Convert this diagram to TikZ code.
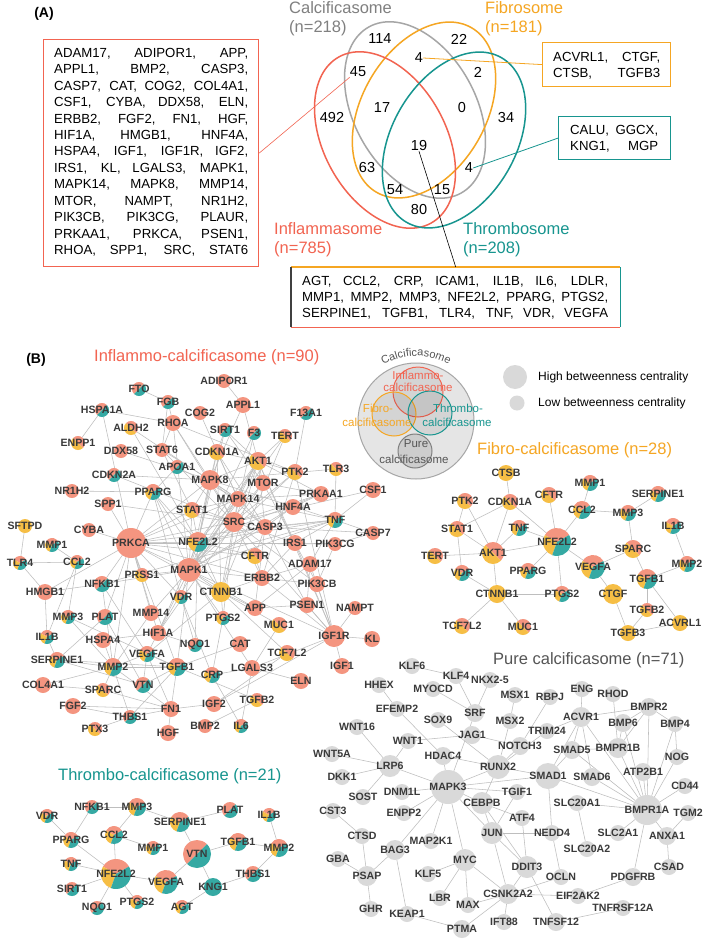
\documentclass[tikz,border=0pt]{standalone}
\usepackage{fontspec}
\setmainfont{Liberation Sans}
\usetikzlibrary{decorations.text}
\pgfdeclarelayer{bg}
\pgfsetlayers{bg,main}
\definecolor{cP}{HTML}{F49580}
\definecolor{cY}{HTML}{F6BE45}
\definecolor{cT}{HTML}{35A9A3}
\definecolor{cG}{HTML}{D9D9D9}
\definecolor{vR}{HTML}{F26451}
\definecolor{vO}{HTML}{F5A623}
\definecolor{vT}{HTML}{17958F}
\definecolor{vG}{HTML}{A6A6A6}
\definecolor{txtc}{HTML}{3A3A3A}
\definecolor{edgec}{HTML}{BEBEBE}
\definecolor{ttlg}{HTML}{555555}
\tikzset{
  gnode/.style={circle,inner sep=0pt,outer sep=0pt},
  glbl/.style={font=\fontsize{10.6}{12}\selectfont\bfseries,text=txtc,inner sep=0pt},
  net/.style={draw=edgec,line width=0.55pt},
  boxtxt/.style={font=\fontsize{13.2}{16}\selectfont,inner sep=0pt,anchor=base west},
  vlab/.style={font=\fontsize{16.5}{18}\selectfont,inner sep=0pt,anchor=west},
  vnum/.style={font=\fontsize{14.5}{16}\selectfont,inner sep=0pt},
  ttl/.style={font=\fontsize{16.5}{18}\selectfont,inner sep=0pt,anchor=west},
  panel/.style={font=\fontsize{14}{16}\selectfont\bfseries,inner sep=0pt},
  venn/.style={line width=1.5pt},
  lgd/.style={font=\fontsize{11.5}{12}\selectfont,inner sep=0pt},
  legtxt/.style={font=\fontsize{12}{14}\selectfont,inner sep=0pt,anchor=west},
  boxframe/.style={inner sep=0pt,line width=1.2pt,anchor=north west},
}
\newcommand{\psec}[5]{\fill[#5] (#1.center) -- ++(#3:#2pt) arc[start angle=#3,end angle=#4,radius=#2pt] -- cycle;}
\newcommand{\pieP}[2]{\fill[cP] (#1.center) circle[radius=#2pt];}
\newcommand{\pieY}[2]{\fill[cY] (#1.center) circle[radius=#2pt];}
\newcommand{\pieT}[2]{\fill[cT] (#1.center) circle[radius=#2pt];}
\newcommand{\pieG}[2]{\fill[cG] (#1.center) circle[radius=#2pt];}
\newcommand{\piePY}[2]{\psec{#1}{#2}{-45}{135}{cP}\psec{#1}{#2}{135}{315}{cY}}
\newcommand{\piePT}[2]{\psec{#1}{#2}{45}{225}{cP}\psec{#1}{#2}{225}{405}{cT}}
\newcommand{\piePYT}[2]{\psec{#1}{#2}{30}{150}{cP}\psec{#1}{#2}{150}{250}{cY}\psec{#1}{#2}{250}{390}{cT}}
\newcommand{\gn}[6]{%
  \node[gnode,minimum size=#4*2pt] (#1) at (#2,#3) {};
  \csname pie#5\endcsname{#1}{#4}%
  \node[glbl] (#1-l) at (#1.center) {#6};}
\begin{document}
\begin{tikzpicture}[x=1pt,y=-1pt]
\useasboundingbox (0,0) rectangle (709,944);
\begin{pgfonlayer}{bg}
\fill[white] (0,0) rectangle (709,944);
\end{pgfonlayer}

% ================= (A) =================
\node[panel] (labA) at (44,14) {(A)};
\draw[vG,venn,shift={(415,110)},rotate=29] (0,0) ellipse[x radius=61pt,y radius=95pt];
\draw[vO,venn,shift={(424,110)},rotate=-30] (0,0) ellipse[x radius=62pt,y radius=95pt];
\draw[vR,venn,shift={(385,140)},rotate=29] (0,0) ellipse[x radius=61pt,y radius=95pt];
\draw[vT,venn,shift={(454,140)},rotate=-30] (0,0) ellipse[x radius=62pt,y radius=95pt];

\node[vlab,text=gray] (lcal) at (289,8) {Calcificasome};
\node[vlab,text=gray] (lcaln) at (289,28) {(n=218)};
\node[vlab,text=vO] (lfib) at (485,8) {Fibrosome};
\node[vlab,text=vO] (lfibn) at (485,28) {(n=181)};
\node[vlab,text=vR] (linf) at (274,229) {Inflammasome};
\node[vlab,text=vR] (linfn) at (274,249) {(n=785)};
\node[vlab,text=vT] (lthr) at (463,229) {Thrombosome};
\node[vlab,text=vT] (lthrn) at (463,249) {(n=208)};

\node[vnum] (n114) at (380,39) {114};
\node[vnum] (n22) at (459,39) {22};
\node[vnum] (n4f) at (419,58) {4};
\node[vnum] (n45) at (358,72) {45};
\node[vnum] (n2) at (478,72) {2};
\node[vnum] (n492) at (332,118) {492};
\node[vnum] (n17) at (382,108) {17};
\node[vnum] (n0) at (462,108) {0};
\node[vnum] (n34) at (506,118) {34};
\node[vnum] (n19) at (419,146) {19};
\node[vnum] (n63) at (367,168) {63};
\node[vnum] (n4t) at (469,168) {4};
\node[vnum] (n54) at (395,190) {54};
\node[vnum] (n15) at (442,190) {15};
\node[vnum] (n80) at (419,210) {80};

% boxes
\node[boxframe,draw=vR,minimum width=215pt,minimum height=227pt] (redbox) at (43,39) {};
\foreach \t [count=\i from 0] in {{ADAM17, ADIPOR1, APP,},{APPL1, BMP2, CASP3,},{CASP7, CAT, COG2, COL4A1,},{CSF1, CYBA, DDX58, ELN,},{ERBB2, FGF2, FN1, HGF,},{HIF1A, HMGB1, HNF4A,},{HSPA4, IGF1, IGF1R, IGF2,},{IRS1, KL, LGALS3, MAPK1,},{MAPK14, MAPK8, MMP14,},{MTOR, NAMPT, NR1H2,},{PIK3CB, PIK3CG, PLAUR,},{PRKAA1, PRKCA, PSEN1,},{RHOA, SPP1, SRC, STAT6}}
  \node[boxtxt] (rl\i) at (54,{57.6+16.4*\i}) {\makebox[194pt][s]{\t}};

\node[boxframe,draw=vO,minimum width=128pt,minimum height=44pt] (obox) at (542,42) {};
\node[boxtxt] (ol1) at (553,61.6) {\makebox[107pt][s]{ACVRL1, CTGF,}};
\node[boxtxt] (ol2) at (553,77.6) {\makebox[107pt][s]{CTSB, TGFB3}};

\node[boxframe,draw=vT,minimum width=112pt,minimum height=43pt] (tbox) at (558,116) {};
\node[boxtxt] (tl1) at (570,134.6) {\makebox[88pt][s]{CALU, GGCX,}};
\node[boxtxt] (tl2) at (570,150.6) {\makebox[88pt][s]{KNG1, MGP}};

\node[inner sep=0pt,minimum width=329pt,minimum height=60pt,anchor=north west] (botbox) at (291,267) {};
\draw[vO,line width=1.2pt] (botbox.north west) -- (botbox.north east);
\draw[vT,line width=1.2pt] (botbox.north east) -- (botbox.south east);
\draw[vR,line width=1.2pt] (botbox.south east) -- (botbox.south west);
\draw[black!75,line width=1.2pt] (botbox.south west) -- (botbox.north west);
\node[boxtxt] (bl1) at (302,285.6) {\makebox[306pt][s]{AGT, CCL2, CRP, ICAM1, IL1B, IL6, LDLR,}};
\node[boxtxt] (bl2) at (302,301.6) {\makebox[306pt][s]{MMP1, MMP2, MMP3, NFE2L2, PPARG, PTGS2,}};
\node[boxtxt] (bl3) at (302,317.6) {\makebox[306pt][s]{SERPINE1, TGFB1, TLR4, TNF, VDR, VEGFA}};

\draw[vR,line width=0.6pt] (n45.south west) -- (redbox.east);
\draw[vO,line width=0.8pt] (n4f.east) -- (obox.west);
\draw[vT,line width=0.8pt] (n4t.east) -- (tbox.west);
\draw[black,line width=0.6pt] (n19.south) -- (botbox.north);

% ================= (B) titles & legend =================
\node[panel] (labB) at (36,360) {(B)};
\node[ttl,text=vR] (tinf) at (94,357) {Inflammo-calcificasome (n=90)};
\node[ttl,text=vO] (tfib) at (477,450) {Fibro-calcificasome (n=28)};
\node[ttl,text=ttlg] (tpur) at (493,660) {Pure calcificasome (n=71)};
\node[ttl,text=vT] (tthr) at (58,776) {Thrombo-calcificasome (n=21)};

\draw[vG,fill=black!10,line width=1pt] (416,421) circle[radius=58pt];
\draw[vR,fill=black,fill opacity=0.07,line width=1pt] (418,392) circle[radius=25pt];
\draw[vO,fill=black,fill opacity=0.07,line width=1pt] (394,414) circle[radius=22pt];
\draw[vT,fill=black,fill opacity=0.07,line width=1pt] (430,413) circle[radius=22pt];
\draw[gray,fill=black,fill opacity=0.1,line width=1pt] (415,451) circle[radius=17pt];
\path[decorate,decoration={text along path,text align=center,text={|\fontsize{11}{12}\selectfont\color{ttlg}|Calcificasome}}] ([shift={(416,421)}]145:65pt) arc[start angle=145,end angle=35,radius=65pt];
\node[lgd,text=vR] (lg1a) at (418,375) {Inflammo-};
\node[lgd,text=vR] (lg1b) at (418,387) {calcificasome};
\node[lgd,text=vO] (lg2a) at (378,408) {Fibro-};
\node[lgd,text=vO] (lg2b) at (377,422) {calcificasome};
\node[lgd,text=vT] (lg3a) at (458,408) {Thrombo-};
\node[lgd,text=vT] (lg3b) at (457,422) {calcificasome};
\node[lgd,text=ttlg] (lg4a) at (416,444) {Pure};
\node[lgd,text=ttlg] (lg4b) at (414,459) {calcificasome};

\node[circle,fill=cG,minimum size=24pt,inner sep=0pt] (hidot) at (515,377) {};
\node[circle,fill=cG,minimum size=15pt,inner sep=0pt] (lodot) at (517,403) {};
\node[legtxt] (hitxt) at (538,377) {High betweenness centrality};
\node[legtxt] (lotxt) at (538,403) {Low betweenness centrality};

% ================= Inflammo-calcificasome =================
\gn{iADIPOR1}{224}{381}{7}{P}{ADIPOR1}
\gn{iFTO}{139}{389}{7}{PT}{FTO}
\gn{iFGB}{168}{402}{7}{PT}{FGB}
\gn{iAPPL1}{243}{405}{8}{P}{APPL1}
\gn{iHSPA1A}{102}{410}{7}{PT}{HSPA1A}
\gn{iCOG2}{200}{413}{7}{P}{COG2}
\gn{iF13A1}{306}{413}{7}{PT}{F13A1}
\gn{iRHOA}{173}{423}{8}{P}{RHOA}
\gn{iALDH2}{131}{428}{7}{PY}{ALDH2}
\gn{iSIRT1}{225}{430}{7}{PT}{SIRT1}
\gn{iF3}{254}{433}{7}{PT}{F3}
\gn{iTERT}{285}{436}{7}{PY}{TERT}
\gn{iENPP1}{78}{443}{7}{PY}{ENPP1}
\gn{iDDX58}{121}{451}{7}{P}{DDX58}
\gn{iSTAT6}{162}{450}{7}{P}{STAT6}
\gn{iCDKN1A}{217}{452}{8}{PY}{CDKN1A}
\gn{iAKT1}{258}{461}{9}{PY}{AKT1}
\gn{iAPOA1}{177}{467}{7}{PT}{APOA1}
\gn{iTLR3}{336}{469}{7}{PY}{TLR3}
\gn{iPTK2}{295}{472}{8}{PY}{PTK2}
\gn{iCDKN2A}{114}{475}{7}{PT}{CDKN2A}
\gn{iMAPK8}{210}{480}{10}{P}{MAPK8}
\gn{iMTOR}{263}{483}{8}{P}{MTOR}
\gn{iCSF1}{373}{490}{8}{P}{CSF1}
\gn{iNR1H2}{72}{491}{7}{P}{NR1H2}
\gn{iPPARG}{153}{492}{8}{PYT}{PPARG}
\gn{iPRKAA1}{321}{494}{8}{P}{PRKAA1}
\gn{iMAPK14}{238}{499}{8}{P}{MAPK14}
\gn{iSPP1}{108}{504}{7}{P}{SPP1}
\gn{iHNF4A}{293}{507}{8}{P}{HNF4A}
\gn{iSTAT1}{192}{510}{8}{PY}{STAT1}
\gn{iTNF}{335}{520}{8}{PYT}{TNF}
\gn{iSRC}{234}{522}{10}{P}{SRC}
\gn{iSFTPD}{25}{526}{7}{Y}{SFTPD}
\gn{iCASP3}{265}{527}{8}{P}{CASP3}
\gn{iCYBA}{89}{530}{7}{P}{CYBA}
\gn{iCASP7}{373}{533}{7}{P}{CASP7}
\gn{iPRKCA}{131}{543}{15}{P}{PRKCA}
\gn{iNFE2L2}{198}{542}{10}{PYT}{NFE2L2}
\gn{iIRS1}{295}{543}{8}{P}{IRS1}
\gn{iPIK3CG}{335}{544}{7}{P}{PIK3CG}
\gn{iMMP1}{52}{545}{7}{PYT}{MMP1}
\gn{iCFTR}{255}{556}{8}{PY}{CFTR}
\gn{iTLR4}{20}{563}{7}{PYT}{TLR4}
\gn{iCCL2}{77}{562}{7}{PYT}{CCL2}
\gn{iADAM17}{310}{564}{8}{P}{ADAM17}
\gn{iMAPK1}{189}{570}{12}{P}{MAPK1}
\gn{iPRSS1}{142}{575}{7}{PY}{PRSS1}
\gn{iERBB2}{262}{578}{8}{P}{ERBB2}
\gn{iNFKB1}{102}{584}{8}{PT}{NFKB1}
\gn{iPIK3CB}{317}{584}{8}{P}{PIK3CB}
\gn{iHMGB1}{45}{592}{8}{P}{HMGB1}
\gn{iCTNNB1}{221}{592}{10}{Y}{CTNNB1}
\gn{iVDR}{181}{597}{7}{PYT}{VDR}
\gn{iAPP}{255}{608}{8}{P}{APP}
\gn{iPSEN1}{307}{605}{8}{P}{PSEN1}
\gn{iNAMPT}{355}{608}{7}{P}{NAMPT}
\gn{iMMP14}{151}{613}{8}{P}{MMP14}
\gn{iPLAT}{105}{617}{8}{PT}{PLAT}
\gn{iMMP3}{68}{617}{7}{PYT}{MMP3}
\gn{iPTGS2}{223}{618}{7}{PYT}{PTGS2}
\gn{iMUC1}{279}{625}{8}{PY}{MUC1}
\gn{iHIF1A}{158}{633}{8}{P}{HIF1A}
\gn{iIGF1R}{334}{636}{11}{P}{IGF1R}
\gn{iIL1B}{47}{637}{7}{PYT}{IL1B}
\gn{iKL}{372}{639}{8}{P}{KL}
\gn{iHSPA4}{103}{640}{8}{P}{HSPA4}
\gn{iCAT}{240}{644}{8}{P}{CAT}
\gn{iNQO1}{195}{645}{7}{PT}{NQO1}
\gn{iTCF7L2}{287}{653}{8}{PY}{TCF7L2}
\gn{iVEGFA}{147}{654}{8}{PYT}{VEGFA}
\gn{iSERPINE1}{57}{660}{8}{PYT}{SERPINE1}
\gn{iIGF1}{342}{666}{8}{P}{IGF1}
\gn{iMMP2}{113}{667}{9}{PYT}{MMP2}
\gn{iTGFB1}{177}{667}{9}{PYT}{TGFB1}
\gn{iLGALS3}{252}{668}{8}{P}{LGALS3}
\gn{iCRP}{212}{675}{8}{PYT}{CRP}
\gn{iELN}{301}{681}{8}{P}{ELN}
\gn{iCOL4A1}{43}{685}{8}{P}{COL4A1}
\gn{iVTN}{143}{685}{8}{PT}{VTN}
\gn{iSPARC}{103}{690}{7}{PY}{SPARC}
\gn{iTGFB2}{257}{700}{7}{PY}{TGFB2}
\gn{iIGF2}{214}{704}{8}{P}{IGF2}
\gn{iFGF2}{73}{706}{8}{P}{FGF2}
\gn{iFN1}{171}{709}{8}{P}{FN1}
\gn{iTHBS1}{130}{717}{7}{PT}{THBS1}
\gn{iBMP2}{205}{726}{7}{P}{BMP2}
\gn{iIL6}{241}{726}{7}{PYT}{IL6}
\gn{iPTX3}{95}{729}{7}{PY}{PTX3}
\gn{iHGF}{168}{733}{8}{P}{HGF}

% ================= Fibro-calcificasome =================
\gn{fCTSB}{506}{473}{8}{Y}{CTSB}
\gn{fMMP1}{590}{483}{8}{PYT}{MMP1}
\gn{fCFTR}{549}{495}{8}{PY}{CFTR}
\gn{fPTK2}{465}{501}{8}{PY}{PTK2}
\gn{fCDKN1A}{510}{502}{8}{PY}{CDKN1A}
\gn{fSERPINE1}{658}{494}{8}{PYT}{SERPINE1}
\gn{fCCL2}{582}{510}{9}{PYT}{CCL2}
\gn{fMMP3}{628}{513}{8}{PYT}{MMP3}
\gn{fIL1B}{673}{526}{8}{PYT}{IL1B}
\gn{fSTAT1}{457}{529}{8}{PY}{STAT1}
\gn{fTNF}{519}{528}{8}{PYT}{TNF}
\gn{fNFE2L2}{557}{542}{14}{PYT}{NFE2L2}
\gn{fSPARC}{633}{549}{9}{PY}{SPARC}
\gn{fTERT}{435}{556}{8}{PY}{TERT}
\gn{fAKT1}{493}{553}{11}{PY}{AKT1}
\gn{fVEGFA}{593}{567}{12}{PYT}{VEGFA}
\gn{fMMP2}{687}{564}{8}{PYT}{MMP2}
\gn{fVDR}{462}{573}{8}{PYT}{VDR}
\gn{fPPARG}{528}{571}{8}{PYT}{PPARG}
\gn{fTGFB1}{647}{579}{10}{PYT}{TGFB1}
\gn{fCTNNB1}{497}{594}{9}{Y}{CTNNB1}
\gn{fPTGS2}{562}{594}{8}{PYT}{PTGS2}
\gn{fCTGF}{613}{594}{10}{Y}{CTGF}
\gn{fTGFB2}{647}{610}{7}{PY}{TGFB2}
\gn{fACVRL1}{680}{623}{8}{Y}{ACVRL1}
\gn{fTGFB3}{628}{633}{8}{Y}{TGFB3}
\gn{fTCF7L2}{462}{626}{8}{PY}{TCF7L2}
\gn{fMUC1}{523}{627}{8}{PY}{MUC1}

% ================= Thrombo-calcificasome =================
\gn{tVDR}{47}{816}{7}{PYT}{VDR}
\gn{tNFKB1}{92}{807}{7}{PT}{NFKB1}
\gn{tMMP3}{137}{807}{9}{PYT}{MMP3}
\gn{tPLAT}{230}{810}{8}{PT}{PLAT}
\gn{tSERPINE1}{180}{822}{10}{PYT}{SERPINE1}
\gn{tPPARG}{71}{840}{8}{PYT}{PPARG}
\gn{tCCL2}{114}{835}{9}{PYT}{CCL2}
\gn{tMMP1}{153}{848}{7}{PYT}{MMP1}
\gn{tVTN}{197}{854}{14}{PT}{VTN}
\gn{tTGFB1}{238}{842}{9}{PYT}{TGFB1}
\gn{tTNF}{71}{864}{7}{PYT}{TNF}
\gn{tNFE2L2}{116}{874}{15}{PYT}{NFE2L2}
\gn{tVEGFA}{166}{882}{12}{PYT}{VEGFA}
\gn{tKNG1}{213}{887}{9}{T}{KNG1}
\gn{tSIRT1}{72}{889}{7}{PT}{SIRT1}
\gn{tPTGS2}{137}{902}{7}{PYT}{PTGS2}
\gn{tNQO1}{97}{908}{7}{PT}{NQO1}
\gn{tAGT}{182}{907}{7}{PYT}{AGT}
\gn{tIL1B}{269}{815}{7}{PYT}{IL1B}
\gn{tMMP2}{279}{848}{9}{PYT}{MMP2}
\gn{tTHBS1}{253}{874}{8}{PT}{THBS1}

% ================= Pure calcificasome =================
\gn{pKLF6}{412}{666}{8}{G}{KLF6}
\gn{pKLF4}{456}{676}{8}{G}{KLF4}
\gn{pNKX25}{490}{680}{8}{G}{NKX2-5}
\gn{pHHEX}{379}{685}{8}{G}{HHEX}
\gn{pMYOCD}{433}{689}{8}{G}{MYOCD}
\gn{pENG}{582}{689}{8}{G}{ENG}
\gn{pMSX1}{515}{695}{8}{G}{MSX1}
\gn{pRHOD}{613}{694}{8}{G}{RHOD}
\gn{pRBPJ}{550}{697}{8}{G}{RBPJ}
\gn{pBMPR2}{649}{707}{9}{G}{BMPR2}
\gn{pEFEMP2}{397}{709}{8}{G}{EFEMP2}
\gn{pSRF}{475}{713}{9}{G}{SRF}
\gn{pACVR1}{581}{717}{10}{G}{ACVR1}
\gn{pSOX9}{438}{720}{8}{G}{SOX9}
\gn{pMSX2}{510}{721}{8}{G}{MSX2}
\gn{pBMP6}{623}{723}{9}{G}{BMP6}
\gn{pBMP4}{675}{724}{8}{G}{BMP4}
\gn{pWNT16}{357}{727}{8}{G}{WNT16}
\gn{pTRIM24}{547}{731}{8}{G}{TRIM24}
\gn{pJAG1}{472}{735}{9}{G}{JAG1}
\gn{pWNT1}{408}{741}{8}{G}{WNT1}
\gn{pNOTCH3}{520}{746}{9}{G}{NOTCH3}
\gn{pBMPR1B}{618}{748}{10}{G}{BMPR1B}
\gn{pSMAD5}{572}{750}{9}{G}{SMAD5}
\gn{pWNT5A}{332}{754}{8}{G}{WNT5A}
\gn{pHDAC4}{443}{756}{9}{G}{HDAC4}
\gn{pNOG}{677}{757}{8}{G}{NOG}
\gn{pLRP6}{390}{766}{11}{G}{LRP6}
\gn{pRUNX2}{498}{767}{12}{G}{RUNX2}
\gn{pATP2B1}{643}{772}{9}{G}{ATP2B1}
\gn{pSMAD1}{548}{776}{13}{G}{SMAD1}
\gn{pSMAD6}{592}{777}{9}{G}{SMAD6}
\gn{pDKK1}{342}{777}{8}{G}{DKK1}
\gn{pCD44}{685}{786}{8}{G}{CD44}
\gn{pMAPK3}{448}{787}{17}{G}{MAPK3}
\gn{pDNM1L}{402}{792}{8}{G}{DNM1L}
\gn{pTGIF1}{517}{792}{8}{G}{TGIF1}
\gn{pSOST}{363}{797}{8}{G}{SOST}
\gn{pCEBPB}{482}{803}{11}{G}{CEBPB}
\gn{pSLC20A1}{577}{803}{8}{G}{SLC20A1}
\gn{pBMPR1A}{647}{810}{15}{G}{BMPR1A}
\gn{pCST3}{333}{811}{8}{G}{CST3}
\gn{pENPP2}{404}{813}{8}{G}{ENPP2}
\gn{pTGM2}{688}{813}{8}{G}{TGM2}
\gn{pATF4}{522}{818}{8}{G}{ATF4}
\gn{pJUN}{492}{833}{11}{G}{JUN}
\gn{pNEDD4}{552}{833}{8}{G}{NEDD4}
\gn{pSLC2A1}{618}{833}{8}{G}{SLC2A1}
\gn{pANXA1}{667}{836}{9}{G}{ANXA1}
\gn{pCTSD}{362}{836}{8}{G}{CTSD}
\gn{pMAP2K1}{431}{841}{8}{G}{MAP2K1}
\gn{pSLC20A2}{587}{849}{8}{G}{SLC20A2}
\gn{pBAG3}{395}{850}{10}{G}{BAG3}
\gn{pGBA}{338}{859}{8}{G}{GBA}
\gn{pMYC}{465}{860}{11}{G}{MYC}
\gn{pDDIT3}{527}{867}{11}{G}{DDIT3}
\gn{pCSAD}{669}{867}{8}{G}{CSAD}
\gn{pKLF5}{428}{874}{8}{G}{KLF5}
\gn{pPSAP}{367}{876}{10}{G}{PSAP}
\gn{pOCLN}{561}{877}{8}{G}{OCLN}
\gn{pPDGFRB}{633}{877}{9}{G}{PDGFRB}
\gn{pCSNK2A2}{508}{894}{10}{G}{CSNK2A2}
\gn{pEIF2AK2}{578}{896}{8}{G}{EIF2AK2}
\gn{pLBR}{440}{898}{8}{G}{LBR}
\gn{pMAX}{468}{905}{8}{G}{MAX}
\gn{pTNFRSF12A}{623}{908}{8}{G}{TNFRSF12A}
\gn{pGHR}{371}{909}{8}{G}{GHR}
\gn{pKEAP1}{407}{914}{8}{G}{KEAP1}
\gn{pIFT88}{504}{922}{8}{G}{IFT88}
\gn{pTNFSF12}{556}{922}{9}{G}{TNFSF12}
\gn{pPTMA}{462}{929}{9}{G}{PTMA}

% ================= edges =================
\begin{pgfonlayer}{bg}
\foreach \a/\b in {FTO/FGB,FGB/RHOA,FGB/STAT6,HSPA1A/ENPP1,HSPA1A/RHOA,HSPA1A/PRKCA,ADIPOR1/APPL1,APPL1/AKT1,APPL1/MAPK8,COG2/MAPK14,RHOA/STAT6,RHOA/MAPK8,RHOA/PTK2,RHOA/SRC,RHOA/MAPK1,ALDH2/NFE2L2,ALDH2/MAPK14,SIRT1/AKT1,SIRT1/MTOR,SIRT1/CDKN1A,SIRT1/NFE2L2,F3/MAPK1,F3/SRC,F13A1/PTK2,TERT/AKT1,TERT/MAPK1,TERT/CTNNB1,DDX58/MAPK8,STAT6/MAPK8,STAT6/SRC,STAT6/STAT1,CDKN1A/AKT1,CDKN1A/MAPK8,CDKN1A/MAPK14,CDKN1A/CTNNB1,CDKN1A/NFE2L2,CDKN1A/CASP3,AKT1/MTOR,AKT1/MAPK8,AKT1/MAPK14,AKT1/SRC,AKT1/PTK2,AKT1/CASP3,AKT1/IRS1,AKT1/NFE2L2,AKT1/CTNNB1,AKT1/MAPK1,AKT1/PRKAA1,AKT1/IGF1R,AKT1/HIF1A,APOA1/PPARG,APOA1/MAPK14,TLR3/TNF,TLR3/MAPK8,PTK2/SRC,PTK2/MAPK1,PTK2/ERBB2,PTK2/IGF1R,CDKN2A/SRC,CDKN2A/MAPK8,MAPK8/MAPK14,MAPK8/SRC,MAPK8/STAT1,MAPK8/NFE2L2,MAPK8/PRKCA,MAPK8/CASP3,MAPK8/TNF,MAPK8/MAPK1,MTOR/PRKAA1,MTOR/HIF1A,MTOR/IRS1,MTOR/MAPK1,CSF1/TNF,CSF1/SRC,NR1H2/PPARG,PPARG/NFE2L2,PPARG/MAPK1,PPARG/PRKCA,PPARG/VDR,PPARG/CTNNB1,PRKAA1/MAPK14,PRKAA1/SRC,PRKAA1/HNF4A,PRKAA1/NFE2L2,MAPK14/SRC,MAPK14/STAT1,MAPK14/CASP3,MAPK14/NFE2L2,MAPK14/TNF,MAPK14/MAPK1,MAPK14/PRKCA,SPP1/SRC,SPP1/PRKCA,HNF4A/MAPK1,HNF4A/CASP3,STAT1/SRC,STAT1/MAPK1,STAT1/NFE2L2,STAT1/PRKCA,TNF/CASP3,TNF/NFE2L2,TNF/MAPK1,TNF/CASP7,TNF/IRS1,TNF/ADAM17,TNF/NFKB1,TNF/PRKCA,SRC/CASP3,SRC/PRKCA,SRC/ERBB2,SRC/MAPK1,SRC/IRS1,SRC/CTNNB1,SRC/IGF1R,SRC/PIK3CB,SRC/PTGS2,SFTPD/TLR4,CASP3/CASP7,CASP3/MAPK1,CASP3/NFE2L2,CASP3/APP,CASP3/PSEN1,CASP3/CFTR,CYBA/PRKCA,PRKCA/NFE2L2,PRKCA/MAPK1,PRKCA/PRSS1,PRKCA/NFKB1,PRKCA/HMGB1,PRKCA/CTNNB1,PRKCA/PLAT,PRKCA/MMP14,PRKCA/HIF1A,PRKCA/ERBB2,PRKCA/IRS1,PRKCA/PIK3CG,PRKCA/CFTR,PRKCA/VDR,PRKCA/MMP2,PRKCA/TGFB1,NFE2L2/MAPK1,NFE2L2/NQO1,NFE2L2/CTNNB1,NFE2L2/CFTR,NFE2L2/HIF1A,IRS1/PIK3CG,IRS1/PIK3CB,IRS1/IGF1R,IRS1/ERBB2,PIK3CG/CASP7,PIK3CG/PIK3CB,MMP1/CCL2,CFTR/ERBB2,TLR4/HMGB1,TLR4/CCL2,CCL2/MMP3,CCL2/IL1B,ADAM17/PSEN1,ADAM17/APP,ADAM17/ERBB2,ADAM17/IGF1R,MAPK1/ERBB2,MAPK1/CTNNB1,MAPK1/VDR,MAPK1/HIF1A,MAPK1/MMP14,MAPK1/NFKB1,MAPK1/PTGS2,MAPK1/IGF1R,MAPK1/APP,MAPK1/TGFB1,MAPK1/LGALS3,PRSS1/MAPK1,ERBB2/CTNNB1,ERBB2/PIK3CB,ERBB2/IGF1R,NFKB1/HMGB1,NFKB1/VEGFA,NFKB1/MMP2,PIK3CB/IGF1R,HMGB1/IL1B,CTNNB1/TCF7L2,CTNNB1/MUC1,CTNNB1/APP,CTNNB1/PTGS2,CTNNB1/VEGFA,VDR/CRP,VDR/NQO1,APP/PSEN1,PSEN1/IGF1R,NAMPT/IGF1R,MMP14/MMP2,PLAT/SERPINE1,PLAT/VTN,MMP3/MMP2,MMP3/TGFB1,PTGS2/CRP,MUC1/LGALS3,HIF1A/VEGFA,HIF1A/NQO1,IGF1R/KL,IGF1R/IGF1,IGF1R/LGALS3,IGF1R/IGF2,IL1B/SERPINE1,HSPA4/HIF1A,HSPA4/MMP2,CAT/TGFB1,TCF7L2/IGF2,VEGFA/MMP2,VEGFA/VTN,VEGFA/TGFB1,VEGFA/FN1,SERPINE1/VTN,SERPINE1/TGFB1,SERPINE1/MMP2,MMP2/TGFB1,MMP2/SPARC,MMP2/THBS1,MMP2/FN1,MMP2/COL4A1,TGFB1/VTN,TGFB1/THBS1,TGFB1/FN1,TGFB1/TGFB2,LGALS3/ELN,LGALS3/CRP,COL4A1/SPARC,SPARC/FN1,FGF2/THBS1,FGF2/FN1,FN1/THBS1,FN1/HGF,FN1/IGF2,BMP2/TGFB2,IL6/CRP,IL6/LGALS3,PTX3/THBS1}
  \draw[net] (i\a) -- (i\b);
\foreach \a/\b in {CTSB/CDKN1A,PTK2/STAT1,PTK2/AKT1,CDKN1A/STAT1,CDKN1A/AKT1,CDKN1A/NFE2L2,CFTR/NFE2L2,MMP1/CCL2,CCL2/NFE2L2,CCL2/MMP3,SERPINE1/MMP3,MMP3/SPARC,IL1B/MMP2,STAT1/AKT1,STAT1/VDR,TNF/NFE2L2,TNF/AKT1,TERT/AKT1,AKT1/NFE2L2,AKT1/CTNNB1,NFE2L2/VEGFA,NFE2L2/PTGS2,NFE2L2/PPARG,VEGFA/SPARC,VEGFA/CTGF,SPARC/TGFB1,TGFB1/MMP2,TGFB1/TGFB2,TGFB1/ACVRL1,VDR/CTNNB1,CTNNB1/PTGS2,CTNNB1/TCF7L2,CTNNB1/MUC1,CTGF/TGFB3,TGFB2/TGFB3,TGFB3/ACVRL1}
  \draw[net] (f\a) -- (f\b);
\foreach \a/\b in {VDR/PPARG,NFKB1/MMP3,NFKB1/PPARG,MMP3/CCL2,MMP3/SERPINE1,SERPINE1/PLAT,SERPINE1/VTN,CCL2/MMP1,CCL2/NFE2L2,VTN/TGFB1,VTN/VEGFA,VTN/KNG1,TNF/NFE2L2,SIRT1/NFE2L2,NQO1/NFE2L2,PTGS2/NFE2L2,NFE2L2/VEGFA,PPARG/NFE2L2,KNG1/AGT,TGFB1/MMP2,THBS1/MMP2,IL1B/MMP2,KNG1/THBS1}
  \draw[net] (t\a) -- (t\b);
\foreach \a/\b in {KLF6/KLF4,KLF4/SRF,MYOCD/SRF,NKX25/SRF,HHEX/EFEMP2,EFEMP2/HDAC4,SRF/MAPK3,MSX1/MSX2,MSX2/RUNX2,RBPJ/NOTCH3,JAG1/NOTCH3,WNT1/JAG1,WNT1/LRP6,WNT16/LRP6,WNT5A/LRP6,DKK1/LRP6,SOST/LRP6,LRP6/MAPK3,HDAC4/RUNX2,HDAC4/MAPK3,SOX9/RUNX2,NOTCH3/RUNX2,TRIM24/RUNX2,RUNX2/SMAD1,RUNX2/MAPK3,RUNX2/CEBPB,SMAD1/SMAD5,SMAD1/BMPR1A,SMAD1/NEDD4,SMAD1/MAPK3,SMAD1/ACVR1,SMAD5/ACVR1,SMAD5/BMPR1B,SMAD5/BMPR1A,SMAD6/ACVR1,SMAD6/BMPR1A,ENG/ACVR1,ACVR1/BMPR2,ACVR1/BMPR1A,ACVR1/TRIM24,RHOD/BMPR1B,BMPR2/BMP6,BMPR2/BMP4,BMPR2/BMPR1B,BMPR2/BMPR1A,BMP6/BMPR1B,BMP6/BMPR1A,BMP4/NOG,BMP4/BMPR1A,BMPR1B/BMPR1A,NOG/BMPR1A,ATP2B1/BMPR1A,CD44/BMPR1A,SLC20A1/BMPR1A,SLC20A1/SLC20A2,SLC2A1/BMPR1A,PDGFRB/BMPR1A,ANXA1/BMPR1A,ANXA1/TGM2,ANXA1/CSAD,MAPK3/CEBPB,MAPK3/JUN,MAPK3/MYC,MAPK3/MAP2K1,MAPK3/BAG3,MAPK3/ENPP2,MAPK3/DNM1L,MAPK3/TGIF1,CEBPB/ATF4,CEBPB/DDIT3,CEBPB/JUN,TGIF1/JUN,JUN/NEDD4,JUN/DDIT3,JUN/CSNK2A2,ATF4/DDIT3,DDIT3/CSNK2A2,DDIT3/TNFSF12,NEDD4/OCLN,OCLN/CSNK2A2,CSNK2A2/EIF2AK2,CSNK2A2/IFT88,CSNK2A2/MAX,CSNK2A2/MYC,CSNK2A2/PTMA,EIF2AK2/PDGFRB,TNFSF12/TNFRSF12A,MYC/KLF5,MYC/LBR,MYC/MAX,KEAP1/PTMA,BAG3/KEAP1,BAG3/PSAP,PSAP/CTSD,PSAP/GBA,PSAP/GHR,CTSD/CST3}
  \draw[net] (p\a) -- (p\b);
\end{pgfonlayer}
\end{tikzpicture}
\end{document}
